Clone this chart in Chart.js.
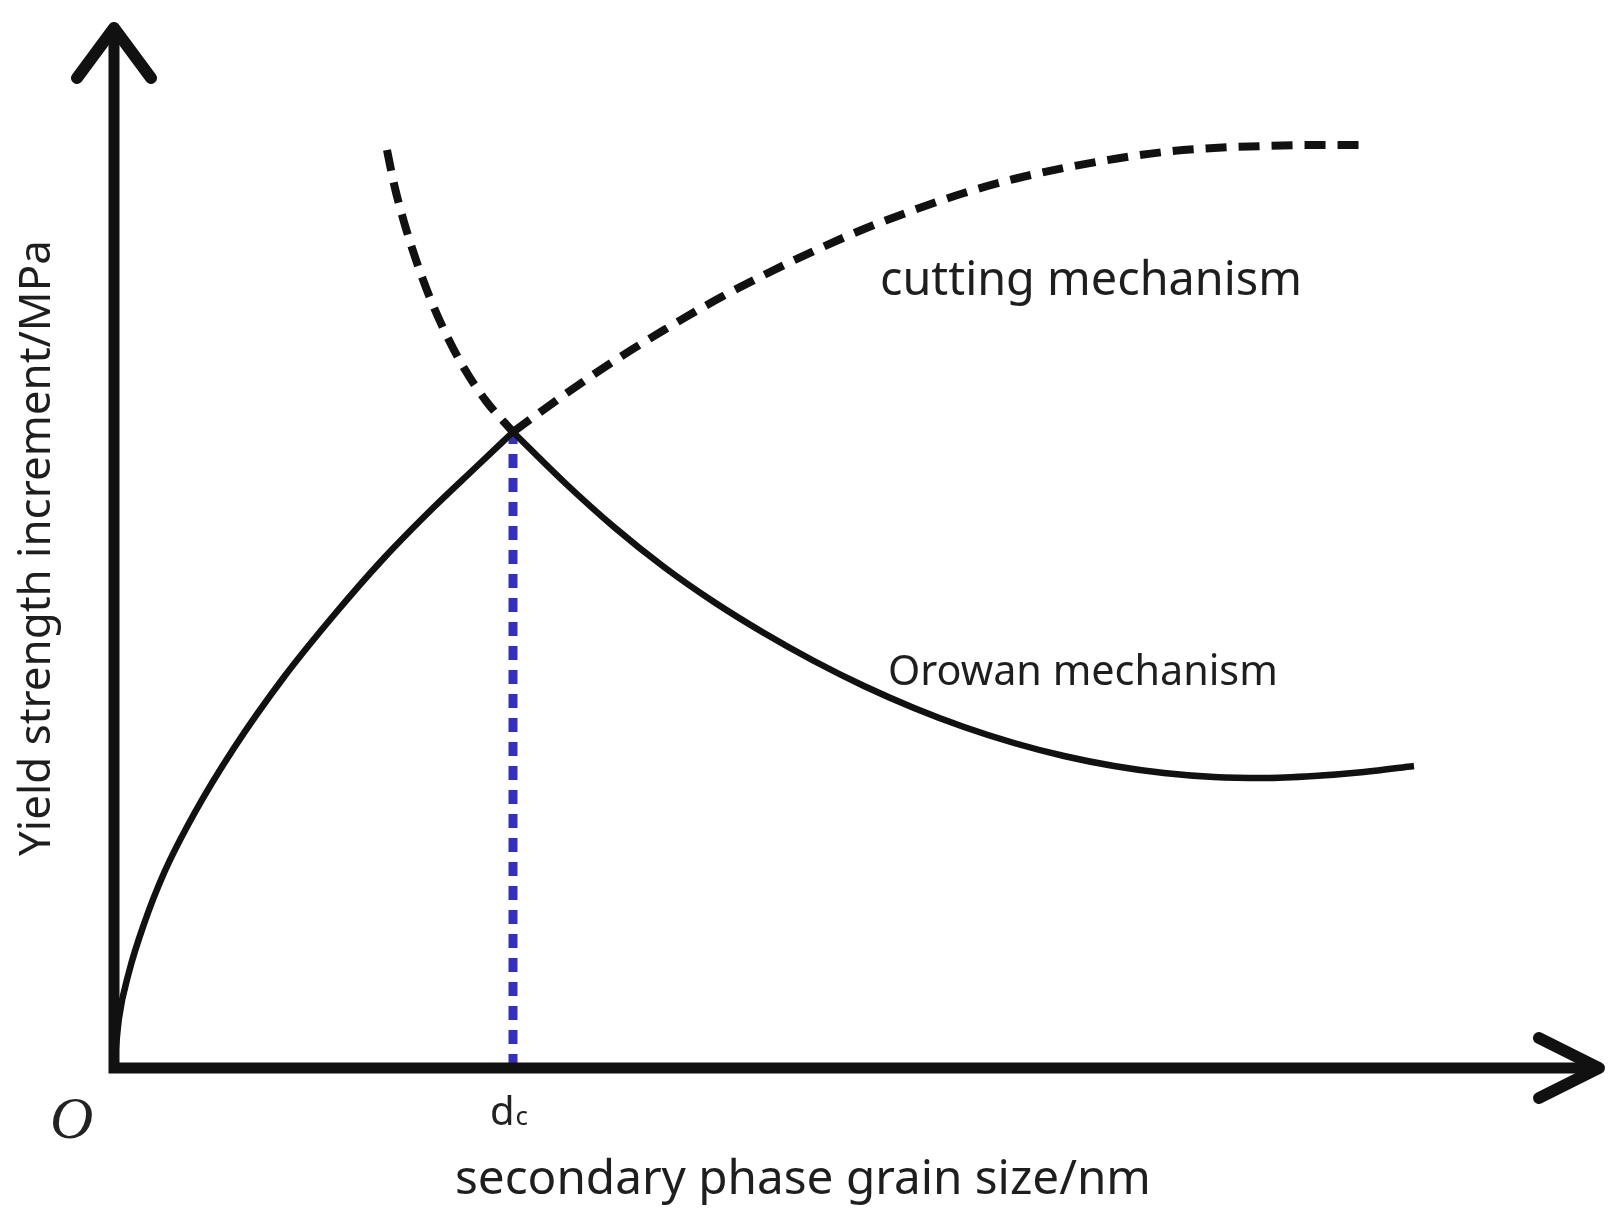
<!DOCTYPE html>
<html>
<head>
<meta charset="utf-8">
<script src="https://cdn.jsdelivr.net/npm/chart.js@4.4.1/dist/chart.umd.min.js"></script>
<style>
  html, body { margin: 0; padding: 0; background: #fff; }
  #wrap { width: 1621px; height: 1221px; position: relative; }
</style>
</head>
<body>
<div id="wrap"><canvas id="chart"></canvas></div>
<script>
// Values (x: grain size, y: strength increment, arbitrary units)
const risingX = [0, 0.5, 1.5, 3, 5, 8, 12, 17, 22, 27, 32, 36, 39.9];
const risingY = [0, 5.0, 9.6, 14.4, 19.5, 25.4, 32.0, 39.1, 45.3, 51.0, 56.1, 59.9, 63.6];

const orowanX = [39.9, 45, 50, 55, 60, 65, 70, 75, 80, 85, 90, 95, 100, 105, 110, 115, 120, 125, 130];
const orowanY = [63.6, 58.6, 54.1, 50.1, 46.6, 43.5, 40.7, 38.2, 36.0, 34.1, 32.5, 31.2, 30.2, 29.5, 29.1, 29.0, 29.2, 29.6, 30.2];

const cuttingX = [39.9, 45, 50, 55, 60, 65, 70, 75, 80, 85, 90, 95, 100, 105, 110, 115, 120, 125.5];
const cuttingY = [63.6, 67.3, 70.7, 73.8, 76.7, 79.3, 81.7, 83.9, 85.8, 87.5, 88.9, 90.0, 90.9, 91.6, 92.0, 92.2, 92.3, 92.3];

const cuttingLeftX = [27.3, 28.0, 29.0, 30.2, 31.6, 33.2, 35.0, 37.2, 39.9];
const cuttingLeftY = [91.8, 88.4, 84.6, 80.8, 77.0, 73.4, 70.0, 66.7, 63.6];

const dc = 39.9;
const dcPeak = 63.6;

const xAxisEnd = 148.5;
const yAxisEnd = 104.0;

const labels = {
  cutting: 'cutting mechanism',
  orowan: 'Orowan mechanism',
  xTitle: 'secondary phase grain size/nm',
  yTitle: 'Yield strength increment/MPa',
  origin: 'O',
  dcMain: 'd',
  dcSub: 'c'
};

function toPoints(xs, ys) {
  return xs.map((x, i) => ({ x: x, y: ys[i] }));
}

// font size that makes a string span a given width
function fitFont(ctx, text, width, family, style) {
  ctx.font = (style || '') + ' 100px ' + family;
  return 100 * width / ctx.measureText(text).width;
}

const axesPlugin = {
  id: 'axesArrows',
  afterDatasetsDraw(chart) {
    const { ctx, scales: { x, y } } = chart;
    const x0 = x.getPixelForValue(0);
    const y0 = y.getPixelForValue(0);
    const xe = x.getPixelForValue(xAxisEnd);
    const ye = y.getPixelForValue(yAxisEnd);
    ctx.save();
    ctx.strokeStyle = '#111';
    ctx.lineWidth = 11;
    ctx.lineCap = 'square';
    ctx.beginPath();
    ctx.moveTo(x0, ye + 4);
    ctx.lineTo(x0, y0);
    ctx.lineTo(xe - 4, y0);
    ctx.stroke();

    ctx.lineWidth = 12;
    ctx.lineCap = 'round';
    ctx.lineJoin = 'round';
    ctx.beginPath();
    ctx.moveTo(x0 - 37, ye + 50);
    ctx.lineTo(x0, ye);
    ctx.lineTo(x0 + 37, ye + 50);
    ctx.stroke();

    ctx.beginPath();
    ctx.moveTo(xe - 60, y0 - 30);
    ctx.lineTo(xe, y0);
    ctx.lineTo(xe - 60, y0 + 30);
    ctx.stroke();
    ctx.restore();
  },
  afterDraw(chart) {
    const { ctx } = chart;
    const fam = '"Noto Sans", "Open Sans", sans-serif';
    ctx.save();
    ctx.fillStyle = '#1e1e1e';
    ctx.textBaseline = 'alphabetic';
    ctx.textAlign = 'left';

    let s = fitFont(ctx, labels.cutting, 422, fam);
    ctx.font = s + 'px ' + fam;
    ctx.fillText(labels.cutting, 880, 295);

    s = fitFont(ctx, labels.orowan, 390, fam);
    ctx.font = s + 'px ' + fam;
    ctx.fillText(labels.orowan, 888, 685);

    s = fitFont(ctx, labels.xTitle, 696, fam);
    ctx.font = s + 'px ' + fam;
    ctx.fillText(labels.xTitle, 455, 1194);

    s = fitFont(ctx, labels.yTitle, 616, fam);
    ctx.font = s + 'px ' + fam;
    ctx.save();
    ctx.translate(50, 856);
    ctx.rotate(-Math.PI / 2);
    ctx.fillText(labels.yTitle, 0, 0);
    ctx.restore();

    ctx.fillStyle = '#222';
    ctx.font = 'italic 60px "Liberation Serif", "DejaVu Serif", serif';
    ctx.fillText(labels.origin, 50, 1138);

    ctx.font = '40px ' + fam;
    ctx.fillText(labels.dcMain, 490, 1125);
    const dw = ctx.measureText(labels.dcMain).width;
    ctx.font = '26px ' + fam;
    ctx.fillText(labels.dcSub, 490 + dw + 1, 1125);
    ctx.restore();
  }
};

const solid = { borderColor: '#111', borderWidth: 6.5, pointRadius: 0, fill: false, cubicInterpolationMode: 'monotone', clip: false };
const dashed = { borderColor: '#111', borderWidth: 8, borderDash: [21, 12], pointRadius: 0, fill: false, cubicInterpolationMode: 'monotone', clip: false };

new Chart(document.getElementById('chart'), {
  type: 'scatter',
  data: {
    datasets: [
      Object.assign({ label: 'rising', data: toPoints(risingX, risingY), showLine: true }, solid),
      Object.assign({ label: 'Orowan mechanism', data: toPoints(orowanX, orowanY), showLine: true }, solid),
      Object.assign({ label: 'cutting mechanism', data: toPoints(cuttingX, cuttingY), showLine: true }, dashed),
      Object.assign({ label: 'cutting (left)', data: toPoints(cuttingLeftX, cuttingLeftY), showLine: true }, dashed),
      {
        label: 'dc',
        data: [{ x: dc, y: 0 }, { x: dc, y: dcPeak }],
        showLine: true,
        borderColor: '#3631bd',
        borderWidth: 9,
        borderDash: [14, 10],
        pointRadius: 0,
        clip: false
      }
    ]
  },
  options: {
    responsive: true,
    maintainAspectRatio: false,
    animation: false,
    layout: { padding: { left: 114, right: 7, top: 18, bottom: 153 } },
    plugins: {
      legend: { display: false },
      tooltip: { enabled: false }
    },
    scales: {
      x: { type: 'linear', min: 0, max: 150, display: false },
      y: { type: 'linear', min: 0, max: 105, display: false }
    }
  },
  plugins: [axesPlugin]
});
</script>
</body>
</html>
